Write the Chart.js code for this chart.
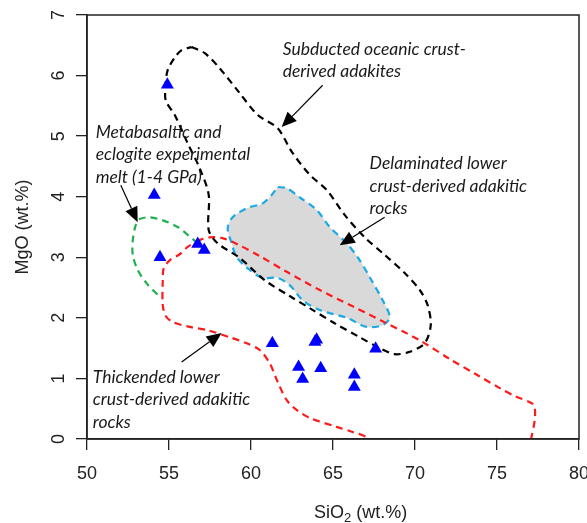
<!DOCTYPE html>
<html>
<head>
<meta charset="utf-8">
<script src="https://cdn.jsdelivr.net/npm/chart.js@4.4.1/dist/chart.umd.min.js"></script>
<style>
  html, body { margin: 0; padding: 0; background: #fff; }
  canvas { display: block; }
</style>
</head>
<body>
<canvas id="adakiteChart" width="587" height="523"></canvas>
<script>
// Samples (SiO2, MgO in wt.%)
const sampleSiO2 = [54.9, 54.1, 54.45, 56.75, 57.15, 61.3, 63.9, 64.0, 62.9, 64.25, 63.15, 66.3, 66.3, 67.6];
const sampleMgO  = [5.85, 4.03, 3.0, 3.22, 3.12, 1.58, 1.6, 1.64, 1.19, 1.17, 0.99, 1.06, 0.86, 1.49];

// Field outlines, [SiO2, MgO]
const subductedField = [
  [56.38, 6.47], [57.18, 6.37], [58.09, 6.12], [59.31, 5.71], [60.41, 5.35], [61.63, 5.13],
  [62.49, 4.74], [63.59, 4.36], [64.62, 4.11], [65.71, 3.70], [66.93, 3.33], [68.15, 3.04],
  [69.37, 2.74], [70.29, 2.46], [70.77, 2.21], [70.96, 1.88], [70.59, 1.58], [69.68, 1.44],
  [68.76, 1.40], [67.85, 1.50], [66.63, 1.68], [65.10, 1.91], [63.58, 2.16], [62.36, 2.36],
  [60.84, 2.62], [59.31, 2.99], [57.97, 3.23], [57.42, 3.45], [57.42, 4.03], [56.87, 4.47],
  [56.14, 4.88], [55.35, 5.35], [54.80, 5.59], [54.80, 5.87], [54.92, 6.09], [55.35, 6.30],
  [55.77, 6.42], [56.38, 6.47]
];
const delaminatedField = [
  [61.63, 4.16], [62.18, 4.14], [62.97, 3.99], [64.01, 3.78], [64.80, 3.50], [65.84, 3.23],
  [66.63, 2.95], [67.24, 2.67], [68.03, 2.29], [68.46, 2.01], [68.03, 1.88], [67.06, 1.85],
  [65.84, 2.00], [64.19, 2.13], [63.15, 2.29], [62.36, 2.54], [61.63, 2.66], [60.71, 2.66],
  [59.92, 2.79], [59.13, 3.00], [58.82, 3.23], [58.58, 3.48], [58.88, 3.66], [59.74, 3.81],
  [60.71, 3.89], [61.26, 4.03], [61.63, 4.16]
];
const experimentalMelt = [
  [56.76, 3.23], [56.14, 3.37], [55.53, 3.50], [54.62, 3.61], [53.82, 3.66], [53.21, 3.63],
  [52.97, 3.53], [52.79, 3.28], [52.79, 3.04], [53.09, 2.79], [53.64, 2.57], [54.31, 2.38]
];
const thickenedField = [
  [56.69, 3.27], [57.48, 3.33], [58.21, 3.32], [59.13, 3.22], [60.53, 3.02], [62.18, 2.76],
  [64.19, 2.46], [66.20, 2.19], [68.27, 1.91], [70.29, 1.63], [72.12, 1.32], [73.77, 1.06],
  [75.17, 0.84], [76.08, 0.71], [77.12, 0.59], [77.30, 0.51], [77.30, 0.31], [77.06, -0.02],
  [76.94, -0.18], [67.24, -0.18], [67.06, 0.02], [66.14, 0.12], [65.22, 0.20], [63.57, 0.35],
  [62.78, 0.48], [62.18, 0.64], [61.63, 0.94], [61.14, 1.25], [60.53, 1.47], [59.74, 1.58],
  [58.70, 1.68], [57.30, 1.80], [56.26, 1.85], [55.23, 1.93], [54.80, 2.03], [54.62, 2.21],
  [54.62, 2.62], [54.68, 2.82], [55.04, 2.95], [55.65, 3.05], [56.14, 3.17], [56.69, 3.27]
];

// Field labels: text lines, anchor (left, middle of first line) and arrow in data units
const fieldLabels = [
  { lines: ['Subducted oceanic crust-', 'derived adakites'], at: [61.93, 6.44], from: [64.37, 5.84], to: [61.87, 5.15] },
  { lines: ['Metabasaltic and', 'eclogite experimental', 'melt (1-4 GPa)'], at: [50.53, 5.07], from: [52.06, 4.19], to: [53.09, 3.58] },
  { lines: ['Delaminated lower', 'crust-derived adakitic', 'rocks'], at: [67.23, 4.55], from: [68.15, 3.66], to: [65.41, 3.20] },
  { lines: ['Thickended lower', 'crust-derived adakitic', 'rocks'], at: [50.35, 1.02], from: [55.77, 1.27], to: [58.21, 1.75] }
];

const toPoints = arr => arr.map(p => ({ x: p[0], y: p[1] }));

function outline(data, color, order, fill) {
  return {
    data: toPoints(data),
    showLine: true,
    borderColor: color,
    borderWidth: 2.2,
    borderDash: [7, 5],
    backgroundColor: fill || 'transparent',
    fill: fill ? 'shape' : false,
    pointRadius: 0,
    tension: 0.3,
    order: order
  };
}

function drawArrow(ctx, x1, y1, x2, y2) {
  const ang = Math.atan2(y2 - y1, x2 - x1);
  const headLen = 15, headW = 6.5;
  const bx = x2 - headLen * Math.cos(ang), by = y2 - headLen * Math.sin(ang);
  ctx.beginPath();
  ctx.moveTo(x1, y1);
  ctx.lineTo(bx, by);
  ctx.stroke();
  ctx.beginPath();
  ctx.moveTo(x2, y2);
  ctx.lineTo(bx + headW * Math.sin(ang), by - headW * Math.cos(ang));
  ctx.lineTo(bx - headW * Math.sin(ang), by + headW * Math.cos(ang));
  ctx.closePath();
  ctx.fill();
}

// labels, arrows, frame and x title
const annotations = {
  id: 'annotations',
  afterDatasetsDraw(chart) {
    const ctx = chart.ctx;
    const xs = chart.scales.x, ys = chart.scales.y;
    ctx.save();
    ctx.fillStyle = '#000';
    ctx.strokeStyle = '#000';
    ctx.lineWidth = 1.2;
    fieldLabels.forEach(l => {
      drawArrow(ctx, xs.getPixelForValue(l.from[0]), ys.getPixelForValue(l.from[1]),
        xs.getPixelForValue(l.to[0]), ys.getPixelForValue(l.to[1]));
    });
    ctx.font = 'italic 17.5px Lato';
    ctx.fillStyle = '#1a1a1a';
    ctx.textBaseline = 'middle';
    ctx.textAlign = 'left';
    fieldLabels.forEach(l => {
      const x = xs.getPixelForValue(l.at[0]);
      const y = ys.getPixelForValue(l.at[1]);
      l.lines.forEach((t, i) => ctx.fillText(t, x, y + i * 22.5));
    });
    ctx.restore();
  },
  afterDraw(chart) {
    const ctx = chart.ctx;
    const a = chart.chartArea;
    ctx.save();
    ctx.strokeStyle = '#222';
    ctx.lineWidth = 1.5;
    ctx.strokeRect(a.left, a.top, a.right - a.left, a.bottom - a.top);
    // x axis title with a real subscript
    ctx.fillStyle = '#222';
    ctx.textBaseline = 'middle';
    ctx.textAlign = 'left';
    const big = '18px "Liberation Sans"', small = '13px "Liberation Sans"';
    ctx.font = big;
    const w1 = ctx.measureText('SiO').width;
    const w3 = ctx.measureText(' (wt.%)').width;
    ctx.font = small;
    const w2 = ctx.measureText('2').width;
    const cx = a.left + (a.right - a.left) * 0.556;
    const y = 513;
    let x = cx - (w1 + w2 + w3) / 2;
    ctx.font = big;
    ctx.fillText('SiO', x, y);
    ctx.font = small;
    ctx.fillText('2', x + w1, y + 5);
    ctx.font = big;
    ctx.fillText(' (wt.%)', x + w1 + w2, y);
    ctx.restore();
  }
};

const ctx = document.getElementById('adakiteChart').getContext('2d');
new Chart(ctx, {
  type: 'scatter',
  data: {
    datasets: [
      {
        data: sampleSiO2.map((v, i) => ({ x: v, y: sampleMgO[i] })),
        pointStyle: 'triangle',
        pointRadius: 7.5,
        pointHoverRadius: 7.5,
        backgroundColor: '#0000ff',
        borderColor: '#0000ff',
        borderWidth: 0,
        order: 0
      },
      outline(subductedField, '#000000', 1),
      outline(experimentalMelt, '#1fb04e', 1),
      outline(thickenedField, '#ff1a1a', 1),
      outline(delaminatedField, '#19a9e6', 2, '#d9d9d9')
    ]
  },
  options: {
    responsive: false,
    animation: false,
    layout: { padding: { top: 15, right: 8, left: 0, bottom: 0 } },
    plugins: { legend: { display: false }, tooltip: { enabled: false } },
    scales: {
      x: {
        type: 'linear',
        min: 50,
        max: 80,
        ticks: { stepSize: 5, color: '#222', padding: 13, font: { family: 'Liberation Sans', size: 18 } },
        grid: { drawOnChartArea: false, drawTicks: true, tickLength: 11, color: '#222', lineWidth: 1.3 },
        border: { color: '#222', width: 1.5 },
        afterFit(scale) { scale.height = 84; scale.paddingLeft = 0; scale.paddingRight = 0; }
      },
      y: {
        type: 'linear',
        min: 0,
        max: 7,
        ticks: { stepSize: 1, minRotation: 90, maxRotation: 90, crossAlign: 'center', color: '#222', padding: 12,
          font: { family: 'Liberation Sans', size: 18 } },
        grid: { drawOnChartArea: false, drawTicks: true, tickLength: 11, color: '#222', lineWidth: 1.3 },
        border: { color: '#222', width: 1.5 },
        title: { display: true, text: 'MgO (wt.%)', color: '#222', padding: { top: 12, bottom: 0 },
          font: { family: 'Liberation Sans', size: 18 } },
        afterFit(scale) { scale.width = 87; scale.paddingTop = 0; scale.paddingBottom = 0; }
      }
    }
  },
  plugins: [annotations]
});
</script>
</body>
</html>
